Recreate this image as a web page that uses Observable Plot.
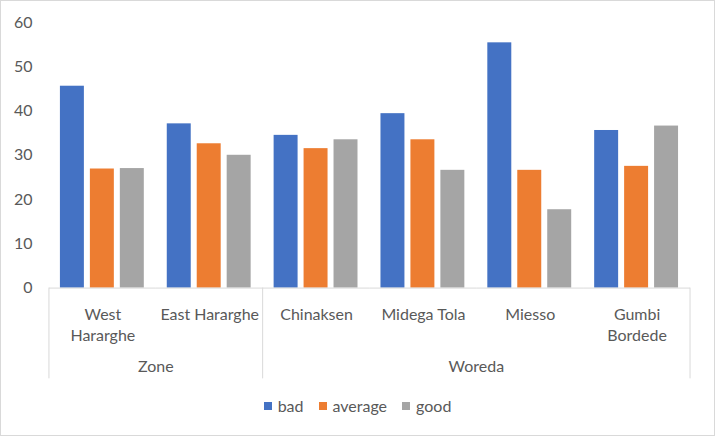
<!DOCTYPE html>
<html>
<head>
<meta charset="utf-8">
<script src="https://cdn.jsdelivr.net/npm/d3@7"></script>
<script src="https://cdn.jsdelivr.net/npm/@observablehq/plot@0.6"></script>
<style>
  html, body { margin: 0; padding: 0; background: #fff; }
  #frame { width: 715px; height: 436px; box-sizing: border-box; border: 1px solid #d9d9d9; position: relative; overflow: hidden; font-family: Lato, "Open Sans", sans-serif; color: #595959; }
  #chart { position: absolute; left: -1px; top: -1px; }
  #legend { position: absolute; left: 0; right: 0; top: 395px; display: flex; justify-content: center; gap: 15px; font-size: 16px; line-height: 20px; }
  #legend span.item { display: inline-flex; align-items: center; gap: 6px; }
  #legend span.sw { width: 8px; height: 8px; display: inline-block; }
</style>
</head>
<body>
<div id="frame">
  <div id="chart"></div>
  <div id="legend"></div>
</div>
<script>
// ---- data ----
const categories = ["West Hararghe", "East Hararghe", "Chinaksen", "Midega Tola", "Miesso", "Gumbi Bordede"];
const categoryLabels = ["West\nHararghe", "East Hararghe", "Chinaksen", "Midega Tola", "Miesso", "Gumbi\nBordede"];
const groups = ["Zone", "Woreda"];
const groupMembers = [["West Hararghe", "East Hararghe"], ["Chinaksen", "Midega Tola", "Miesso", "Gumbi Bordede"]];
const seriesNames = ["bad", "average", "good"];
const seriesColors = ["#4472C4", "#ED7D31", "#A5A5A5"];
const bad = [45.6, 37.1, 34.5, 39.4, 55.4, 35.6];
const average = [26.9, 32.6, 31.5, 33.5, 26.6, 27.5];
const good = [27.0, 30.0, 33.5, 26.6, 17.7, 36.6];
const yTicks = [0, 10, 20, 30, 40, 50, 60];

const seriesValues = [bad, average, good];
const rows = [];
categories.forEach((c, i) => {
  seriesNames.forEach((s, j) => rows.push({category: c, series: s, value: seriesValues[j][i]}));
});
const labelRows = categories.map((c, i) => ({category: c, label: categoryLabels[i]}));

const plot = Plot.plot({
  width: 715,
  height: 390,
  marginLeft: 48,
  marginRight: 23,
  marginTop: 22,
  marginBottom: 102,
  style: {fontFamily: "Lato, 'Open Sans', sans-serif", fontSize: "16px", color: "#595959", background: "transparent"},
  fx: {domain: categories, padding: 0, axis: null},
  x: {domain: seriesNames, paddingInner: 0.194, paddingOuter: 0.327, axis: null},
  y: {domain: [0, 60], ticks: yTicks, tickSize: 0, tickPadding: 17, label: null},
  color: {domain: seriesNames, range: seriesColors},
  marks: [
    Plot.barY(rows, {fx: "category", x: "series", y: "value", fill: "series"}),
    Plot.ruleY([0], {stroke: "#d9d9d9", strokeWidth: 1}),
    Plot.text(labelRows, {fx: "category", text: "label", frameAnchor: "bottom", lineAnchor: "top", dy: 17, lineHeight: 1.32, fill: "#595959", fontSize: 16})
  ]
});
document.getElementById("chart").appendChild(plot);

// separators and group labels from the plot's own scales
const fx = plot.scale("fx");
const y = plot.scale("y");
const svg = d3.select(plot);
const y0 = y.apply(0);
const yBottom = y.apply(-20.5);
const edges = [];
groupMembers.forEach((m, gi) => {
  const left = fx.apply(m[0]);
  const right = fx.apply(m[m.length - 1]) + fx.bandwidth;
  edges.push(left);
  if (gi === groupMembers.length - 1) edges.push(right);
  svg.append("text")
    .attr("x", (left + right) / 2)
    .attr("y", y.apply(-18.1))
    .attr("text-anchor", "middle")
    .attr("dominant-baseline", "middle")
    .attr("fill", "#595959")
    .attr("font-size", 16)
    .text(groups[gi]);
});
edges.forEach(x => {
  svg.append("line")
    .attr("x1", x).attr("x2", x)
    .attr("y1", y0).attr("y2", yBottom)
    .attr("stroke", "#d9d9d9").attr("stroke-width", 1);
});

// legend
const legend = document.getElementById("legend");
seriesNames.forEach((s, i) => {
  const item = document.createElement("span");
  item.className = "item";
  item.innerHTML = `<span class="sw" style="background:${seriesColors[i]}"></span>${s}`;
  legend.appendChild(item);
});
</script>
</body>
</html>
